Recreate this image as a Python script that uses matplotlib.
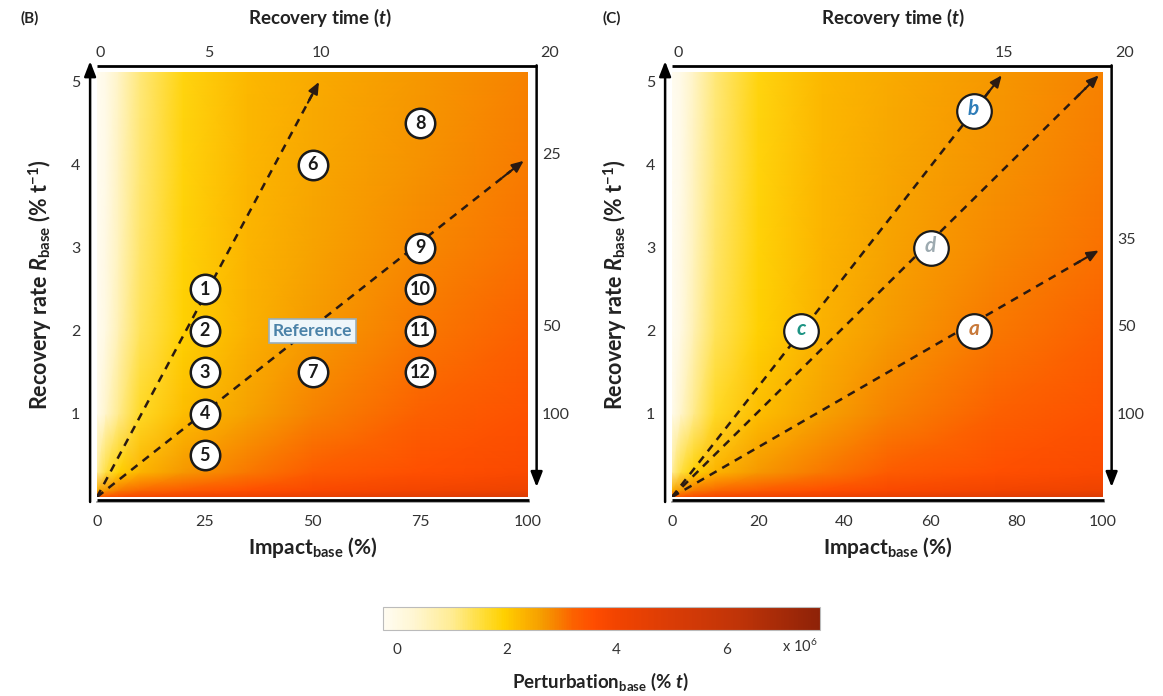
import numpy as np
import matplotlib
matplotlib.use("Agg")
import matplotlib.pyplot as plt
from matplotlib.colors import LinearSegmentedColormap, Normalize

plt.rcParams['font.family'] = ['Lato', 'DejaVu Sans']
plt.rcParams['mathtext.fontset'] = 'custom'
plt.rcParams['mathtext.rm'] = 'Lato'
plt.rcParams['mathtext.it'] = 'Lato:italic'
plt.rcParams['mathtext.bf'] = 'Lato:bold'
plt.rcParams['mathtext.bfit'] = 'Lato:italic:bold'

# heatmap nodes (values in x10^6 % t)
impact_nodes = [0, 2, 5, 10, 20, 35, 50, 75, 100]
rate_nodes = [0, 0.08, 0.3, 1, 2, 3, 4, 5.12]
perturbation = [
    [3.3, 3.5, 3.7, 3.9, 4.1, 4.3, 4.5, 4.75, 5.0],
    [2.4, 2.7, 2.95, 3.15, 3.35, 3.55, 3.75, 3.95, 4.15],
    [0.9, 1.5, 1.95, 2.3, 2.7, 3.0, 3.3, 3.55, 3.75],
    [-0.1, 0.4, 1.05, 1.7, 2.2, 2.6, 2.9, 3.25, 3.5],
    [-0.2, 0.05, 0.65, 1.35, 1.95, 2.35, 2.65, 3.0, 3.25],
    [-0.2, 0.0, 0.55, 1.25, 1.9, 2.3, 2.55, 2.85, 3.05],
    [-0.2, -0.05, 0.5, 1.2, 1.87, 2.27, 2.5, 2.75, 2.95],
    [-0.2, -0.05, 0.45, 1.15, 1.85, 2.25, 2.45, 2.7, 2.9],
]

# panel B scenarios
b_labels = ['1', '2', '3', '4', '5', '6', '7', '8', '9', '10', '11', '12']
b_impact = [25, 25, 25, 25, 25, 50, 50, 75, 75, 75, 75, 75]
b_rate = [2.5, 2, 1.5, 1, 0.5, 4, 1.5, 4.5, 3, 2.5, 2, 1.5]
ref_impact, ref_rate = 50, 2
b_arrow_ends = [(51.5, 5.0), (99, 4.05)]
b_top_ticks = [(0.7, '0'), (26, '5'), (52, '10'), (105, '20')]
b_right_ticks = [(4.12, '25'), (2.05, '50'), (0.99, '100')]

# panel C scenarios
c_labels = ['a', 'b', 'c', 'd']
c_impact = [70, 70, 30, 60]
c_rate = [2, 4.65, 2, 3]
c_colors = ['#C8793A', '#2F7DB8', '#1E9484', '#9DAAB0']
c_arrow_ends = [(76.5, 5.08), (99, 5.08), (99, 2.97)]
c_top_ticks = [(1.5, '0'), (77, '15'), (105, '20')]
c_right_ticks = [(3.1, '35'), (2.05, '50'), (0.99, '100')]

vmin, vmax = -0.25, 7.7
stops = [(-0.25, '#FFFCF2'), (0.3, '#FFF6D2'), (1.0, '#FFEC92'), (1.6, '#FFDC30'),
         (1.95, '#FFD000'), (2.3, '#FCB400'), (2.6, '#F6A000'), (2.9, '#F78200'),
         (3.2, '#FC6200'), (3.6, '#FF4C00'), (4.0, '#F24400'), (5.0, '#DA3C06'),
         (6.2, '#C03408'), (7.7, '#8E2208')]
cmap = LinearSegmentedColormap.from_list('pert', [((v - vmin) / (vmax - vmin), c) for v, c in stops])
norm = Normalize(vmin, vmax)

W, H = 1163, 696
fig = plt.figure(figsize=(W / 100, H / 100), dpi=100)
txt = '#333333'
dark = '#222222'
dash = '#2A1A12'


def frame(ax, top_ticks, right_ticks, xticks):
    X, Y = np.meshgrid(impact_nodes, rate_nodes)
    ax.pcolormesh(X, Y, np.array(perturbation), cmap=cmap, norm=norm, shading='gouraud')
    ax.set_xlim(0, 100)
    ax.set_ylim(0, 5.12)
    for s in ax.spines.values():
        s.set_visible(False)
    ax.set_xticks(xticks)
    ax.set_yticks([1, 2, 3, 4, 5])
    ax.tick_params(length=0, labelsize=11.5, labelcolor=txt)
    ax.tick_params(axis='x', pad=13)
    ax.tick_params(axis='y', pad=12)
    # hand-drawn style axes
    ax.annotate('', xy=(-1.6, 5.25), xytext=(-1.6, -0.06), annotation_clip=False,
                arrowprops=dict(arrowstyle='-|>,head_length=0.9,head_width=0.35', color='black', lw=1.8,
                                shrinkA=0, shrinkB=0))
    ax.plot([0, 100.3], [-0.065, -0.065], color='#999999', lw=1.2, clip_on=False)
    ax.plot([0, 100.3], [-0.04, -0.04], color='black', lw=2, clip_on=False, solid_capstyle='butt')
    ax.plot([0, 102], [5.19, 5.19], color='black', lw=2, clip_on=False, solid_capstyle='butt')
    ax.annotate('', xy=(102, 0.12), xytext=(102, 5.2), annotation_clip=False,
                arrowprops=dict(arrowstyle='-|>,head_length=0.9,head_width=0.35', color='black', lw=1.8,
                                shrinkA=0, shrinkB=0))
    for x, s in top_ticks:
        ax.text(x, 5.27, s, ha='center', va='bottom', fontsize=11.5, color=txt, clip_on=False)
    for y, s in right_ticks:
        ax.text(103.2, y, s, ha='left', va='center', fontsize=11.5, color=txt, clip_on=False)
    ax.set_xlabel(r'Impact$_{\mathbf{base}}$ (%)', fontsize=15, fontweight='bold', color=dark)
    ax.xaxis.set_label_coords(0.5, -0.09)
    ax.set_ylabel(r'Recovery rate $\mathbfit{R}_{\mathbf{base}}$ (% t$^{\mathbf{-1}}$)',
                  fontsize=15.5, fontweight='bold', color=dark)
    ax.yaxis.set_label_coords(-0.1, 0.5)


def dashed_arrows(ax, ends):
    for ex, ey in ends:
        ax.plot([0, ex * 0.97], [0, ey * 0.97], color=dash, lw=1.8, ls=(0, (3.2, 2.6)))
        ax.annotate('', xy=(ex, ey), xytext=(ex * 0.95, ey * 0.95), annotation_clip=False,
                    arrowprops=dict(arrowstyle='-|>,head_length=0.7,head_width=0.3', color=dash, lw=1.5,
                                    shrinkA=0, shrinkB=0))


# panel B
axB = fig.add_axes([97 / W, 1 - 497 / H, 431 / W, 425 / H])
frame(axB, b_top_ticks, b_right_ticks, [0, 25, 50, 75, 100])
dashed_arrows(axB, b_arrow_ends)
axB.scatter(b_impact, b_rate, s=450, facecolor='white', edgecolor='#1A1A1A', linewidth=1.8, zorder=5)
for x, y, s in zip(b_impact, b_rate, b_labels):
    axB.text(x, y, s, ha='center', va='center', fontsize=13, fontweight='bold', color='#1A1A1A', zorder=6)
axB.text(ref_impact, ref_rate, 'Reference', ha='center', va='center', fontsize=12.5, fontweight='bold',
         color='#4B82A8', zorder=6,
         bbox=dict(boxstyle='square,pad=0.22', fc='#EEF6FA', ec='#9AAEB8', lw=1.2))

# panel C
axC = fig.add_axes([672 / W, 1 - 497 / H, 431 / W, 425 / H])
frame(axC, c_top_ticks, c_right_ticks, [0, 20, 40, 60, 80, 100])
dashed_arrows(axC, c_arrow_ends)
axC.scatter(c_impact, c_rate, s=620, facecolor='white', edgecolor='#1A1A1A', linewidth=1.6, zorder=5)
for x, y, s, c in zip(c_impact, c_rate, c_labels, c_colors):
    axC.text(x, y + 0.02, s, ha='center', va='center', fontsize=15, fontweight='bold', fontstyle='italic',
             color=c, zorder=6)

fig.text(320 / W, 1 - 18 / H, r'Recovery time ($\mathbfit{t}$)', ha='center', va='center',
         fontsize=13.5, fontweight='bold', color=dark)
fig.text(893 / W, 1 - 18 / H, r'Recovery time ($\mathbfit{t}$)', ha='center', va='center',
         fontsize=13.5, fontweight='bold', color=dark)
fig.text(30 / W, 1 - 18 / H, '(B)', ha='center', va='center', fontsize=11, fontweight='bold', color=dark)
fig.text(612 / W, 1 - 18 / H, '(C)', ha='center', va='center', fontsize=11, fontweight='bold', color=dark)

# colorbar
cax = fig.add_axes([383 / W, 1 - 630 / H, 437 / W, 23 / H])
sm = plt.cm.ScalarMappable(cmap=cmap, norm=norm)
cb = fig.colorbar(sm, cax=cax, orientation='horizontal', ticks=[0, 2, 4, 6])
cb.outline.set_edgecolor('#BBBBBB')
cb.outline.set_linewidth(0.8)
cax.tick_params(length=0, labelsize=11, labelcolor=txt, pad=9)
fig.text(800 / W, 1 - 646 / H, r'x 10$^{6}$', ha='center', va='center', fontsize=10.5, color=txt)
fig.text(600 / W, 1 - 682 / H, r'Perturbation$_{\mathbf{base}}$ (% $\mathbfit{t}$)', ha='center', va='center',
         fontsize=13.5, fontweight='bold', color=dark)

fig.savefig('out.png', dpi=100)
